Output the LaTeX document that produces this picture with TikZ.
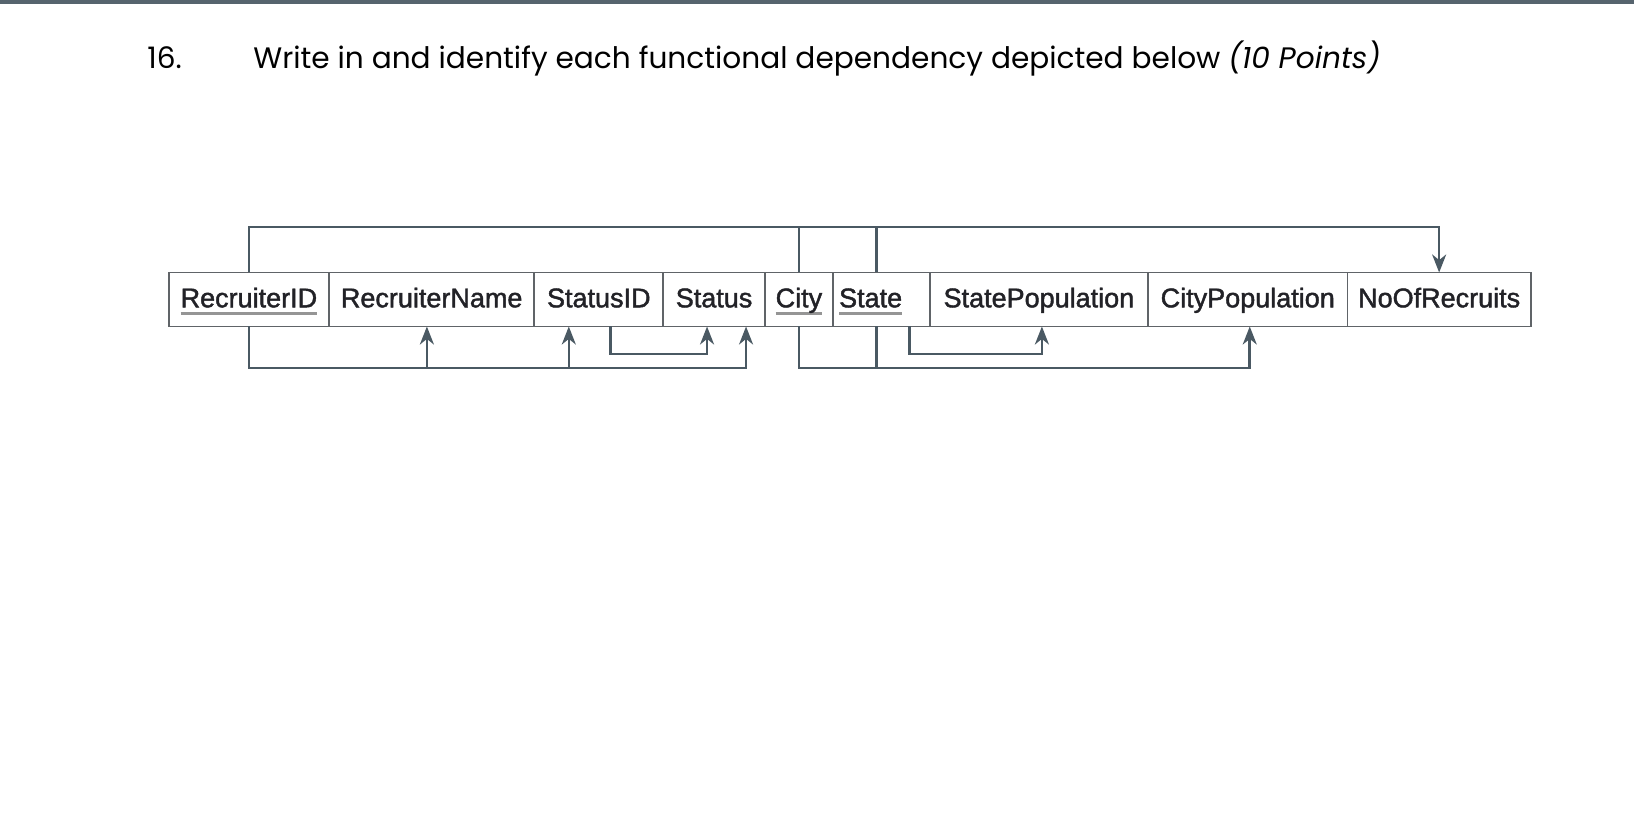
\documentclass[tikz,border=0pt]{standalone}
\usepackage{fontspec}
\usepackage{calc}
\setmainfont{Liberation Sans}
\newfontfamily\attrfont[FakeBold=1.6]{Liberation Sans}
\newfontfamily\qfont{Poppins}
\usetikzlibrary{positioning, arrows.meta}

\definecolor{barcol}{HTML}{56646E}
\definecolor{fdcol}{HTML}{4A5963}
\definecolor{cellcol}{HTML}{606468}
\definecolor{keycol}{HTML}{959595}
\definecolor{txtcol}{HTML}{222227}

\newcommand{\pkey}[1]{\leavevmode\rlap{\color{keycol}\rule[-3.9pt]{\widthof{#1}}{1.5pt}}#1}

\begin{document}
\begin{tikzpicture}[x=0.5pt, y=-0.5pt, >={Stealth[length=9pt, width=7pt, inset=2.8pt]},
  attr/.style={rectangle, draw=cellcol, line width=0.9pt, outer sep=0pt, inner xsep=1pt,
    minimum height=27pt, text height=11.4pt, text depth=3.6pt, text=txtcol,
    font=\attrfont\fontsize{13.5}{16}\selectfont},
  fd/.style={draw=fdcol, line width=1.3pt},
  qtext/.style={inner sep=0pt, anchor=base west, text=black, font=\qfont\fontsize{14.8}{18}\selectfont}]

  \useasboundingbox (0,0) rectangle (1634,834);
  \fill[barcol] (0,0) rectangle (1634,4.5);

  % Question
  \node[qtext] (qnum) at (147,69) {16.};
  \node[qtext] (qline) at (253,69) {Write in and identify each functional dependency depicted below \textit{(10 Points)}};

  % Define nodes
  \node[attr, minimum width=80.2pt, anchor=north west] (rid) at (168.7,272.5) {\pkey{RecruiterID}};
  \node[attr, minimum width=102.6pt] (rname) [right=0pt of rid] {RecruiterName};
  \node[attr, minimum width=64.5pt] (sid) [right=0pt of rname] {StatusID};
  \node[attr, minimum width=50.75pt] (status) [right=0pt of sid] {Status};
  \node[attr, minimum width=34.15pt] (city) [right=0pt of status] {\pkey{City}};
  \node[attr, text width=42.35pt, inner xsep=3pt, align=left] (state) [right=0pt of city] {\pkey{State}};
  \node[attr, minimum width=109.1pt] (spop) [right=0pt of state] {StatePopulation};
  \node[attr, minimum width=99.75pt] (cpop) [right=0pt of spop] {CityPopulation};
  \node[attr, minimum width=91.65pt] (nrec) [right=0pt of cpop] {NoOfRecruits};

  \coordinate (top rail) at (0,227);
  \coordinate (loop rail) at (0,354);
  \coordinate (low rail) at (0,368);

  % Define edges (above)
  \draw[fd, ->] (rid.north) |- (nrec.north |- top rail) -- (nrec.north);
  \draw[fd] (city.north) -- (city.north |- top rail);
  \draw[fd] ([xshift=-2.5pt]state.north) -- ([xshift=-2.5pt]state.north |- top rail);

  % Define edges (below)
  \draw[fd, ->] (rid.south) |- ([xshift=16pt]status.south |- low rail) -- ([xshift=16pt]status.south);
  \draw[fd, ->] ([xshift=-2.4pt]rname.south |- low rail) -- ([xshift=-2.4pt]rname.south);
  \draw[fd, ->] ([xshift=-15pt]sid.south |- low rail) -- ([xshift=-15pt]sid.south);
  \draw[fd, ->] ([xshift=5.7pt]sid.south) |- ([xshift=-3.5pt]status.south |- loop rail) -- ([xshift=-3.5pt]status.south);
  \draw[fd, ->] (city.south) |- ([xshift=1pt]cpop.south |- low rail) -- ([xshift=1pt]cpop.south);
  \draw[fd] ([xshift=-2.5pt]state.south) -- ([xshift=-2.5pt]state.south |- low rail);
  \draw[fd, ->] ([xshift=14pt]state.south) |- ([xshift=1.5pt]spop.south |- loop rail) -- ([xshift=1.5pt]spop.south);
\end{tikzpicture}
\end{document}
